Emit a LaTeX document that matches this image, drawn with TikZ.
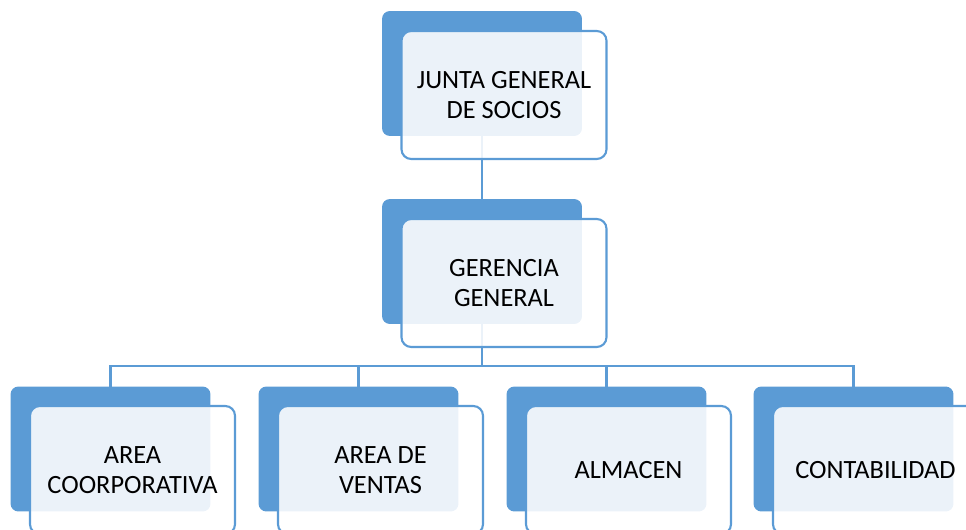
\documentclass[tikz,border=0pt]{standalone}
\usepackage{fontspec}
\setmainfont{Carlito}
\usetikzlibrary{backgrounds}
\definecolor{accent}{HTML}{5B9BD5}
\tikzset{
  backbox/.style={rectangle, rounded corners=4.5pt, fill=accent, inner sep=0pt,
    minimum width=4cm, minimum height=2.5cm},
  frontbox/.style={rectangle, rounded corners=5.5pt, draw=accent, line width=1.2pt,
    fill=white, fill opacity=0.88, text opacity=1, inner sep=0pt,
    minimum width=4.1cm, minimum height=2.56cm, align=center,
    font=\fontsize{15}{17}\selectfont},
  conn/.style={draw=accent, line width=1.4pt}
}
\begin{document}
\begin{tikzpicture}[x=0.02cm,y=-0.02cm]
\useasboundingbox (0,0) rectangle (966,530);
\clip (0,0) rectangle (966,530);
\node[backbox] (bjunta) at (482,73.5) {};
\node[frontbox] (junta) at (504,95) {JUNTA GENERAL\\DE SOCIOS};
\node[backbox] (bgerencia) at (482,261.5) {};
\node[frontbox] (gerencia) at (504,283) {GERENCIA\\GENERAL};
\foreach \x/\name/\txt in {110.5/corp/{AREA\\COORPORATIVA},358.5/ventas/{AREA DE\\VENTAS},
    606.5/almacen/{ALMACEN},853.5/conta/{CONTABILIDAD}} {
  \node[backbox] (b\name) at (\x,449) {};
  \node[frontbox] (\name) at (\x+22,470) {\txt};
}
\begin{scope}[on background layer]
\coordinate (bus) at (0,366);
\draw[conn] (bjunta.center) -- (bgerencia.center) -- (bgerencia.center |- bus);
\foreach \name in {corp,ventas,almacen,conta}
  \draw[conn] (bgerencia.center |- bus) -| (b\name.center);
\end{scope}
\end{tikzpicture}
\end{document}
